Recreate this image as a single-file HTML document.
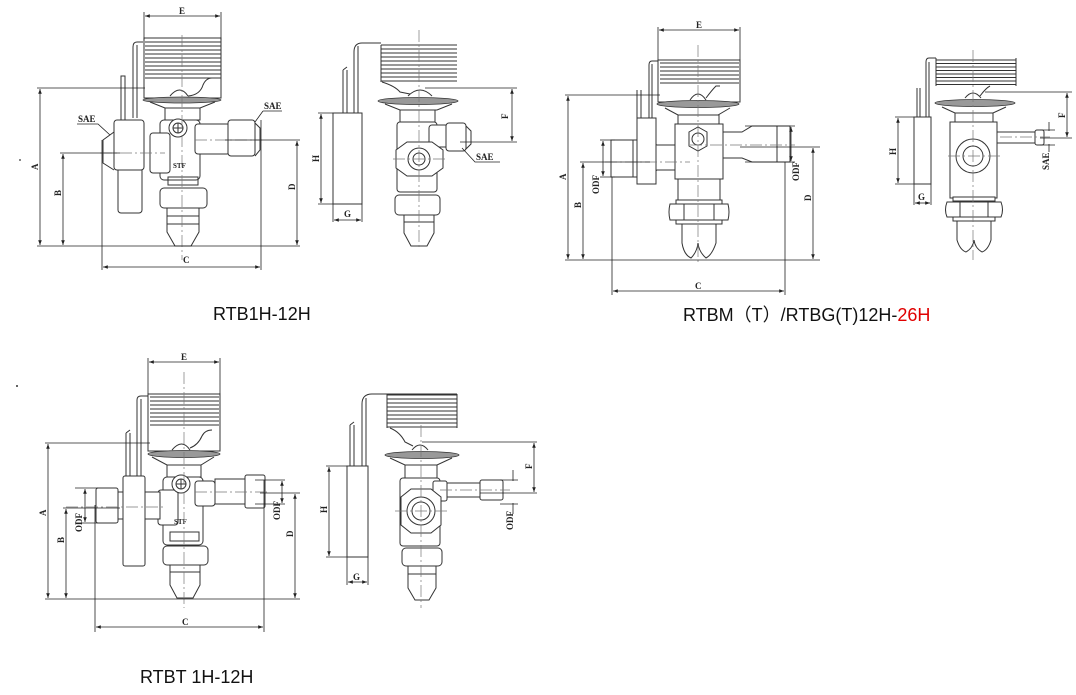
<!DOCTYPE html>
<html><head><meta charset="utf-8">
<style>
html,body{margin:0;padding:0;background:#fff;}
svg{display:block;}
.s{fill:none;stroke:#333;stroke-width:1;}
.f{fill:#fff;stroke:#333;stroke-width:1;}
.c{fill:none;stroke:#777;stroke-width:0.7;stroke-dasharray:12 3 2 3;}
.d{fill:none;stroke:#222;stroke-width:0.8;}
.g{fill:#999;stroke:#333;stroke-width:0.8;}
.t{font-family:"Liberation Serif",serif;font-size:9px;font-weight:bold;fill:#222;}
.cap{font-family:"Liberation Sans","Noto Sans CJK SC",sans-serif;font-size:18px;fill:#111;}
</style></head>
<body>
<svg width="1076" height="695" viewBox="0 0 1076 695" xmlns="http://www.w3.org/2000/svg">
<defs>
<marker id="a" viewBox="0 0 8 8" refX="8" refY="4" markerWidth="6" markerHeight="6" orient="auto-start-reverse"><path d="M0,1 L8,4 L0,7" fill="#222"/></marker>
<g id="coil">
 <path class="s" d="M0,0 H76 M0,4 H76 M0,8 H76 M0,12 H76 M0,16 H76 M0,20 H76 M0,24 H76 M0,28 H76 M0,32 H76 M0,36 H76"/>
</g>
</defs>

<!-- ============ Drawing 1 front (RTB1H) ============ -->
<g>
 <rect class="s" x="144" y="38" width="77" height="60"/>
 <g transform="translate(145,42) scale(1,1)"><use href="#coil"/></g>
 <path class="s" d="M143,42 H137 Q133,42 133,47 V118"/>
 <path class="s" d="M137,45 V118"/>
 <path class="s" d="M170,96 Q180,84 188,96 M188,96 Q200,95 203,85 Q206,78 212,78"/>
 <ellipse class="g" cx="182" cy="100" rx="39" ry="3"/>
 <path class="s" d="M150,102 L165,108 H200 L215,102"/>
 <rect class="f" x="165" y="108" width="35" height="12"/>
 <rect class="f" x="160" y="120" width="40" height="60" rx="4"/>
 <rect class="f" x="195" y="124" width="35" height="30" rx="3"/>
 <rect class="f" x="228" y="120" width="27" height="36" rx="3"/>
 <path class="s" d="M255,123 L260,128 V150 L255,156"/>
 <rect class="f" x="150" y="133" width="20" height="40" rx="3"/>
 <rect class="f" x="118" y="165" width="24" height="48" rx="3"/>
 <rect class="f" x="114" y="120" width="30" height="50" rx="3"/>
 <path class="s" d="M114,132 L103,140 V163 L114,170"/>
 <rect class="s" x="121" y="76" width="4" height="44"/>
 <circle class="f" cx="178" cy="128" r="9"/><circle class="s" cx="178" cy="128" r="5"/>
 <path class="s" d="M173,128 H183 M178,123 V133"/>
 <text class="t" x="173" y="168" style="font-size:7px">STF</text>
 <rect class="s" x="168" y="177" width="30" height="8"/>
 <rect class="f" x="160" y="188" width="47" height="20" rx="4"/>
 <path class="f" d="M167,208 H199 V232 L191,246 H175 L167,232 Z"/>
 <path class="s" d="M167,216 H199 M167,224 H199"/>
 <path class="c" d="M182,35 V260 M100,153 H165 M195,140 H262"/>
 <!-- dims -->
 <path class="d" d="M144,12 V40 M221,12 V40"/>
 <line class="d" x1="145" y1="16" x2="220" y2="16" marker-start="url(#a)" marker-end="url(#a)"/>
 <text class="t" x="179" y="14">E</text>
 <path class="d" d="M37,88 H145 M37,246 H300 M60,153 H120 M225,140 H300 M102,140 V270 M261,120 V270"/>
 <line class="d" x1="40" y1="89" x2="40" y2="245" marker-start="url(#a)" marker-end="url(#a)"/>
 <line class="d" x1="63" y1="154" x2="63" y2="245" marker-start="url(#a)" marker-end="url(#a)"/>
 <line class="d" x1="297" y1="141" x2="297" y2="245" marker-start="url(#a)" marker-end="url(#a)"/>
 <line class="d" x1="103" y1="267" x2="260" y2="267" marker-start="url(#a)" marker-end="url(#a)"/>
 <text class="t" transform="translate(38,170) rotate(-90)">A</text>
 <text class="t" transform="translate(61,196) rotate(-90)">B</text>
 <text class="t" transform="translate(295,190) rotate(-90)">D</text>
 <text class="t" x="183" y="263">C</text>
 <text class="t" x="78" y="122">SAE</text>
 <path class="d" d="M77,124 H98 L110,135"/>
 <text class="t" x="264" y="109">SAE</text>
 <path class="d" d="M263,111 H282 M263,111 L255,122"/>
</g>

<!-- ============ Drawing 2 side (RTB1H) ============ -->
<g>
 <g transform="translate(381,45)"><use href="#coil"/></g>
 <path class="s" d="M381,43 H362 Q354,43 354,52 V114 M358,46 V114 M381,45 V82"/>
 <path class="s" d="M382,82 Q395,86 400,92 L410,94"/>
 <path class="s" d="M408,96 Q420,84 432,96"/>
 <ellipse class="g" cx="418" cy="101" rx="40" ry="3.5"/>
 <path class="s" d="M385,104 L400,110 H437 L452,104"/>
 <rect class="f" x="400" y="110" width="35" height="12"/>
 <rect class="f" x="397" y="122" width="40" height="70" rx="3"/>
 <rect class="f" x="429" y="125" width="20" height="22" rx="3"/>
 <rect class="f" x="446" y="123" width="20" height="28" rx="3"/>
 <path class="s" d="M466,126 L471,131 V144 L466,149"/>
 <path class="f" d="M396,150 L407,142 H432 L443,150 V168 L432,176 H407 L396,168 Z"/>
 <circle class="s" cx="419" cy="159" r="11"/><circle class="s" cx="419" cy="159" r="6"/>
 <rect class="f" x="395" y="195" width="45" height="20" rx="4"/>
 <path class="f" d="M404,215 H434 V233 L427,246 H411 L404,233 Z"/>
 <path class="s" d="M404,222 H434"/>
 <path class="c" d="M419,30 V250 M393,159 H446"/>
 <path class="s" d="M343,70 V113 M347,70 V113 M343,70 L347,67"/>
 <rect class="f" x="333" y="113" width="29" height="91"/>
 <path class="d" d="M318,113 H333 M318,204 H333 M333,204 V222 M362,204 V222 M425,88 H517 M460,142 H517"/>
 <line class="d" x1="321" y1="114" x2="321" y2="203" marker-start="url(#a)" marker-end="url(#a)"/>
 <line class="d" x1="334" y1="220" x2="361" y2="220" marker-start="url(#a)" marker-end="url(#a)"/>
 <line class="d" x1="512" y1="89" x2="512" y2="141" marker-start="url(#a)" marker-end="url(#a)"/>
 <text class="t" transform="translate(319,162) rotate(-90)">H</text>
 <text class="t" x="344" y="217">G</text>
 <text class="t" transform="translate(508,119) rotate(-90)">F</text>
 <text class="t" x="476" y="160">SAE</text>
 <path class="d" d="M462,148 L475,162 H500"/>
</g>

<!-- ============ Drawing 3 front (RTBM) ============ -->
<g>
 <rect class="s" x="658" y="60" width="82" height="42"/>
 <path class="s" d="M660,63 H739 M660,67 H739 M660,71 H739 M660,75 H739 M660,79 H739 M660,83 H739"/>
 <path class="s" d="M658,61 H652 Q649,61 649,65 V118 M652,64 V118"/>
 <path class="s" d="M690,100 Q698,88 706,100 M706,98 Q712,90 716,86 H720"/>
 <ellipse class="g" cx="698" cy="104" rx="41" ry="3.5"/>
 <path class="s" d="M665,108 L678,115 H718 L730,108"/>
 <rect class="f" x="678" y="115" width="41" height="9"/>
 <rect class="f" x="675" y="124" width="48" height="55"/>
 <path class="f" d="M723,132 H742 L752,126 H790 V162 H752 L742,158 H723 Z"/>
 <path class="s" d="M777,126 V162"/>
 <path class="f" d="M675,145 H657 L648,140 H611 V177 H648 L657,170 H675 Z"/>
 <path class="s" d="M633,140 V177"/>
 <rect class="f" x="637" y="118" width="19" height="66"/>
 <path class="s" d="M637,90 V118 M641,90 V118"/>
 <path class="f" d="M689,132 L698,127 L707,132 V146 L698,151 L689,146 Z"/>
 <circle class="s" cx="698" cy="139" r="6"/>
 <rect class="f" x="678" y="179" width="42" height="22"/>
 <path class="f" d="M670,204 Q668,212 670,220 H728 Q730,212 728,204 Z"/>
 <path class="s" d="M684,204 V220 M714,204 V220"/>
 <rect class="f" x="676" y="200" width="46" height="4"/><rect class="f" x="676" y="220" width="46" height="4"/>
 <path class="f" d="M682,224 H716 V243 Q712,255 706,258 Q699,252 698,243 Q697,252 691,258 Q684,255 682,243 Z"/>
 <path class="c" d="M698,45 V265 M605,162 H690 M690,145 H795"/>
 <path class="d" d="M658,27 V60 M740,27 V60"/>
 <line class="d" x1="659" y1="30" x2="739" y2="30" marker-start="url(#a)" marker-end="url(#a)"/>
 <text class="t" x="696" y="28">E</text>
 <path class="d" d="M565,95 H660 M565,260 H820 M580,162 H650 M740,147 H820 M612,177 V295 M785,162 V295 M600,140 H615 M600,177 H615 M745,126 H795 M745,162 H795"/>
 <line class="d" x1="568" y1="96" x2="568" y2="259" marker-start="url(#a)" marker-end="url(#a)"/>
 <line class="d" x1="583" y1="163" x2="583" y2="259" marker-start="url(#a)" marker-end="url(#a)"/>
 <line class="d" x1="603" y1="141" x2="603" y2="176" marker-start="url(#a)" marker-end="url(#a)"/>
 <line class="d" x1="791" y1="127" x2="791" y2="161" marker-start="url(#a)" marker-end="url(#a)"/>
 <line class="d" x1="813" y1="148" x2="813" y2="259" marker-start="url(#a)" marker-end="url(#a)"/>
 <line class="d" x1="613" y1="291" x2="784" y2="291" marker-start="url(#a)" marker-end="url(#a)"/>
 <text class="t" transform="translate(566,180) rotate(-90)">A</text>
 <text class="t" transform="translate(581,208) rotate(-90)">B</text>
 <text class="t" transform="translate(599,194) rotate(-90)">ODF</text>
 <text class="t" transform="translate(799,181) rotate(-90)">ODF</text>
 <text class="t" transform="translate(811,201) rotate(-90)">D</text>
 <text class="t" x="695" y="289">C</text>
</g>

<!-- ============ Drawing 4 side (RTBM) ============ -->
<g>
 <path class="s" d="M936,60 H1016 M936,63.5 H1016 M936,67 H1016 M936,70.5 H1016 M936,74 H1016 M936,77.5 H1016 M936,81 H1016 M936,84.5 H1016 M1016,58 V86 M936,58 V86"/>
 <path class="s" d="M936,58 H929 Q926,58 926,62 V117 M929,62 V117"/>
 <path class="s" d="M965,98 Q973,88 981,98 M980,96 Q986,88 990,86"/>
 <ellipse class="g" cx="975" cy="103" rx="40" ry="3.5"/>
 <path class="s" d="M942,107 L955,113 H993 L1006,107"/>
 <rect class="f" x="955" y="113" width="38" height="9"/>
 <rect class="f" x="950" y="122" width="47" height="76"/>
 <rect class="f" x="997" y="132" width="38" height="11"/>
 <rect class="f" x="1035" y="130" width="9" height="15" rx="2"/>
 <circle class="s" cx="973" cy="156" r="17"/><circle class="s" cx="973" cy="156" r="10"/>
 <rect class="f" x="914" y="117" width="17" height="67"/>
 <path class="s" d="M917,88 V117 M920,88 V117"/>
 <rect class="f" x="953" y="197" width="42" height="4"/>
 <path class="f" d="M947,202 Q944,210 947,217 H1001 Q1004,210 1001,202 Z"/>
 <path class="s" d="M960,202 V217 M988,202 V217"/>
 <rect class="f" x="953" y="217" width="42" height="4"/>
 <path class="f" d="M957,221 H991 V240 Q988,250 982,252 Q975,248 974,240 Q973,248 966,252 Q960,250 957,240 Z"/>
 <path class="c" d="M973,50 V260 M948,156 H1000 M1000,137 H1050"/>
 <path class="d" d="M895,117 H914 M895,184 H914 M914,184 V205 M931,184 V205 M985,92 H1072 M1040,138 H1072 M1040,130 H1055 M1040,145 H1055"/>
 <line class="d" x1="898" y1="118" x2="898" y2="183" marker-start="url(#a)" marker-end="url(#a)"/>
 <line class="d" x1="915" y1="203" x2="930" y2="203" marker-start="url(#a)" marker-end="url(#a)"/>
 <line class="d" x1="1067" y1="93" x2="1067" y2="137" marker-start="url(#a)" marker-end="url(#a)"/>
 <path class="d" d="M1049,122 V131 M1049,144 V152"/>
 <text class="t" transform="translate(896,155) rotate(-90)">H</text>
 <text class="t" x="918" y="200">G</text>
 <text class="t" transform="translate(1065,118) rotate(-90)">F</text>
 <text class="t" transform="translate(1049,170) rotate(-90)">SAE</text>
</g>

<!-- ============ Drawing 5 front (RTBT) ============ -->
<g>
 <rect class="s" x="148" y="394" width="72" height="57"/>
 <path class="s" d="M150,397 H219 M150,401 H219 M150,405 H219 M150,409 H219 M150,413 H219 M150,417 H219 M150,421 H219 M150,425 H219"/>
 <path class="s" d="M148,396 H141 Q137,396 137,400 V476 M141,399 V476"/>
 <path class="s" d="M172,450 Q182,438 190,450 M190,448 Q198,445 202,436 Q205,430 212,430"/>
 <ellipse class="g" cx="184" cy="454" rx="36" ry="3.5"/>
 <path class="s" d="M152,457 L167,465 H201 L214,457"/>
 <rect class="f" x="167" y="465" width="34" height="12"/>
 <rect class="f" x="163" y="477" width="40" height="68" rx="4"/>
 <rect class="f" x="195" y="481" width="20" height="25" rx="3"/>
 <rect class="f" x="215" y="479" width="32" height="25"/>
 <rect class="f" x="245" y="475" width="20" height="33" rx="2"/>
 <rect class="f" x="158" y="490" width="20" height="35" rx="3"/>
 <rect class="f" x="118" y="492" width="42" height="27"/>
 <rect class="f" x="96" y="488" width="22" height="35" rx="2"/>
 <rect class="f" x="123" y="476" width="22" height="90" rx="2"/>
 <path class="s" d="M126,433 V476 M130,433 V476 M126,433 L130,430"/>
 <circle class="f" cx="181" cy="484" r="9"/><circle class="s" cx="181" cy="484" r="5"/>
 <path class="s" d="M176,484 H186 M181,479 V489"/>
 <text class="t" x="174" y="524" style="font-size:7px">STF</text>
 <rect class="s" x="170" y="532" width="29" height="9"/>
 <rect class="f" x="163" y="546" width="45" height="19" rx="4"/>
 <path class="f" d="M170,565 H200 V585 L193,598 H177 L170,585 Z"/>
 <path class="s" d="M170,572 H200"/>
 <path class="c" d="M184,372 V608 M66,507 H165 M195,492 H270"/>
 <path class="d" d="M148,358 V394 M220,358 V394"/>
 <line class="d" x1="149" y1="362" x2="219" y2="362" marker-start="url(#a)" marker-end="url(#a)"/>
 <text class="t" x="181" y="360">E</text>
 <path class="d" d="M45,443 H150 M45,599 H300 M63,508 H120 M260,493 H300 M95,505 V632 M264,480 V632 M75,488 H98 M75,523 H98 M255,480 H285 M255,504 H285"/>
 <line class="d" x1="48" y1="444" x2="48" y2="598" marker-start="url(#a)" marker-end="url(#a)"/>
 <line class="d" x1="66" y1="509" x2="66" y2="598" marker-start="url(#a)" marker-end="url(#a)"/>
 <line class="d" x1="85" y1="489" x2="85" y2="522" marker-start="url(#a)" marker-end="url(#a)"/>
 <line class="d" x1="282" y1="481" x2="282" y2="503" marker-start="url(#a)" marker-end="url(#a)"/>
 <line class="d" x1="295" y1="494" x2="295" y2="598" marker-start="url(#a)" marker-end="url(#a)"/>
 <line class="d" x1="96" y1="627" x2="263" y2="627" marker-start="url(#a)" marker-end="url(#a)"/>
 <text class="t" transform="translate(46,516) rotate(-90)">A</text>
 <text class="t" transform="translate(64,543) rotate(-90)">B</text>
 <text class="t" transform="translate(82,532) rotate(-90)">ODF</text>
 <text class="t" transform="translate(280,520) rotate(-90)">ODF</text>
 <text class="t" transform="translate(293,537) rotate(-90)">D</text>
 <text class="t" x="182" y="625">C</text>
</g>

<!-- ============ Drawing 6 side (RTBT) ============ -->
<g>
 <path class="s" d="M387,395 H457 M387,399 H457 M387,403 H457 M387,407 H457 M387,411 H457 M387,415 H457 M387,419 H457 M387,423 H457 M387,427 H457 M457,394 V428 M387,394 V428"/>
 <path class="s" d="M457,394 H372 Q362,394 362,404 V466 M366,398 V466"/>
 <path class="s" d="M390,428 Q400,432 405,442 L413,446"/>
 <path class="s" d="M412,450 Q420,440 428,450"/>
 <ellipse class="g" cx="422" cy="455" rx="37" ry="3.5"/>
 <path class="s" d="M390,458 L405,465 H437 L452,458"/>
 <rect class="f" x="405" y="465" width="32" height="13"/>
 <rect class="f" x="400" y="478" width="40" height="68" rx="3"/>
 <rect class="f" x="433" y="481" width="14" height="20" rx="2"/>
 <rect class="f" x="447" y="483" width="33" height="14"/>
 <rect class="f" x="480" y="480" width="23" height="20" rx="2"/>
 <path class="f" d="M401,497 L411,489 H431 L441,497 V525 L431,533 H411 L401,525 Z"/>
 <circle class="s" cx="421" cy="511" r="14"/><circle class="s" cx="421" cy="511" r="9"/>
 <rect class="f" x="402" y="548" width="40" height="18" rx="4"/>
 <path class="f" d="M408,566 H436 V588 L429,600 H415 L408,588 Z"/>
 <path class="s" d="M408,574 H436"/>
 <path class="c" d="M421,425 V608 M395,511 H450 M440,490 H510"/>
 <path class="s" d="M350,425 V466 M354,425 V466 M350,425 L354,422"/>
 <rect class="f" x="347" y="466" width="21" height="91"/>
 <path class="d" d="M326,466 H347 M326,557 H347 M347,557 V585 M368,557 V585 M422,442 H537 M480,493 H537 M500,480 H518 M500,504 H518"/>
 <line class="d" x1="329" y1="467" x2="329" y2="556" marker-start="url(#a)" marker-end="url(#a)"/>
 <line class="d" x1="348" y1="582" x2="367" y2="582" marker-start="url(#a)" marker-end="url(#a)"/>
 <line class="d" x1="534" y1="443" x2="534" y2="492" marker-start="url(#a)" marker-end="url(#a)"/>
 <path class="d" d="M513,470 V481 M513,503 V514"/>
 <text class="t" transform="translate(327,513) rotate(-90)">H</text>
 <text class="t" x="353" y="580">G</text>
 <text class="t" transform="translate(532,469) rotate(-90)">F</text>
 <text class="t" transform="translate(513,530) rotate(-90)">ODF</text>
</g>

<!-- dots -->
<circle cx="20" cy="160" r="0.9" fill="#333"/>
<circle cx="17" cy="386" r="1" fill="#333"/>

<!-- captions -->
<text class="cap" x="213" y="320">RTB1H-12H</text>
<text class="cap" x="683" y="321">RTBM（T）/RTBG(T)12H-<tspan fill="#e00000">26H</tspan></text>
<text class="cap" x="140" y="683">RTBT 1H-12H</text>
</svg>
</body></html>
